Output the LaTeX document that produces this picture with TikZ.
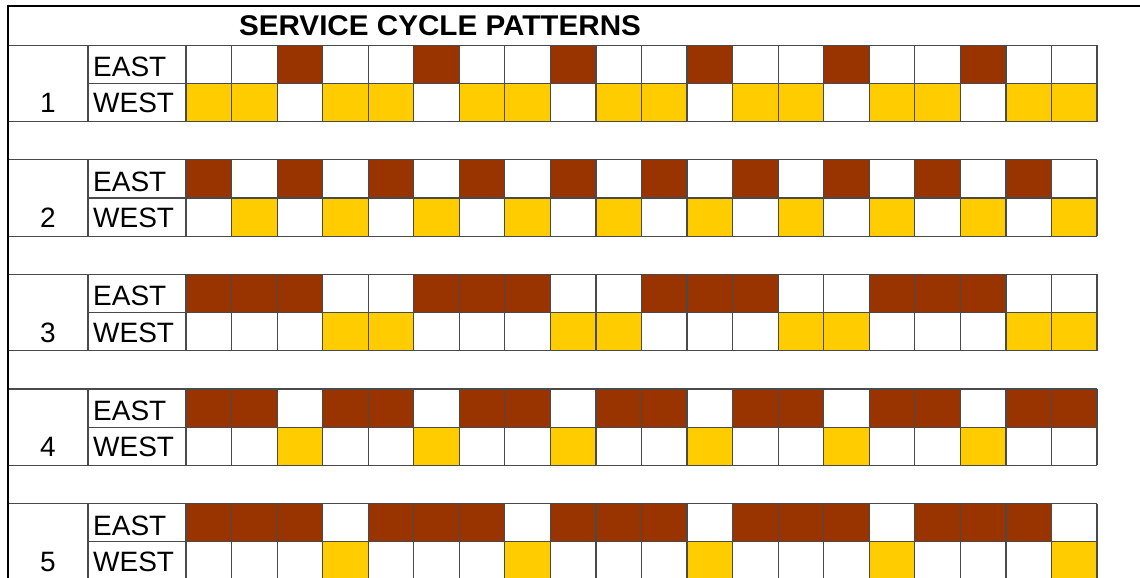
\documentclass[tikz,border=0pt]{standalone}
\usepackage{fontspec}
\setmainfont{Liberation Sans}
\definecolor{brn}{HTML}{993300}
\definecolor{ylw}{HTML}{FFCC00}
\definecolor{grid}{HTML}{4A4A4A}
\begin{document}
\begin{tikzpicture}[x=1pt,y=-1pt,
  gridline/.style={draw=grid,line width=1.2pt},
  frameline/.style={draw=black,line width=2.4pt},
  lbl/.style={inner sep=0pt,font=\fontsize{28}{30}\selectfont},
  ttl/.style={inner sep=0pt,font=\fontsize{28.5}{30}\selectfont\bfseries}]
\useasboundingbox (0,0) rectangle (1140,578);
\fill[white] (0,0) rectangle (1140,578);
\begin{scope}
\clip (0,0) rectangle (1140,578);
% title
\node[ttl,anchor=base] (title) at (440,35.7) {\scalebox{1.04}[1]{SERVICE CYCLE PATTERNS}};
\def\rh{38.2}
\def\cw{45.55}
\foreach \b/\pat in {
  1/{0,0,1,0,0,1,0,0,1,0,0,1,0,0,1,0,0,1,0,0},
  2/{1,0,1,0,1,0,1,0,1,0,1,0,1,0,1,0,1,0,1,0},
  3/{1,1,1,0,0,1,1,1,0,0,1,1,1,0,0,1,1,1,0,0},
  4/{1,1,0,1,1,0,1,1,0,1,1,0,1,1,0,1,1,0,1,1},
  5/{1,1,1,0,1,1,1,0,1,1,1,0,1,1,1,0,1,1,1,0}} {
  \pgfmathsetmacro{\T}{45.2+(\b-1)*3*\rh}
  \pgfmathsetmacro{\M}{\T+\rh}
  \pgfmathsetmacro{\B}{\T+2*\rh}
  % cells
  \foreach \v [count=\k] in \pat {
    \pgfmathsetmacro{\xa}{186+(\k-1)*\cw}
    \pgfmathsetmacro{\xb}{\xa+\cw}
    \ifnum\v=1
      \fill[brn] (\xa,\T) rectangle (\xb,\M);
    \else
      \fill[ylw] (\xa,\M) rectangle (\xb,\B);
    \fi
  }
  % horizontal lines
  \draw[gridline] (8,\T) -- (1097,\T);
  \draw[gridline] (8,\B) -- (1097,\B);
  \draw[gridline] (88,\M) -- (1097,\M);
  % vertical lines
  \draw[gridline] (88,\T) -- (88,\B);
  \foreach \j in {0,...,20} {
    \draw[gridline] ({186+\j*\cw},\T) -- ({186+\j*\cw},\B);
  }
  % labels
  \node[lbl,anchor=base west] (e\b) at (93,\T+31.4) {EAST};
  \node[lbl,anchor=base west] (w\b) at (93,\M+29.4) {WEST};
  \node[lbl,anchor=base] (n\b) at (48,\M+29.4) {\b};
}
% frame
\draw[frameline] (8,6) -- (1140,6);
\draw[frameline] (8,5) -- (8,578);
\end{scope}
\end{tikzpicture}
\end{document}
